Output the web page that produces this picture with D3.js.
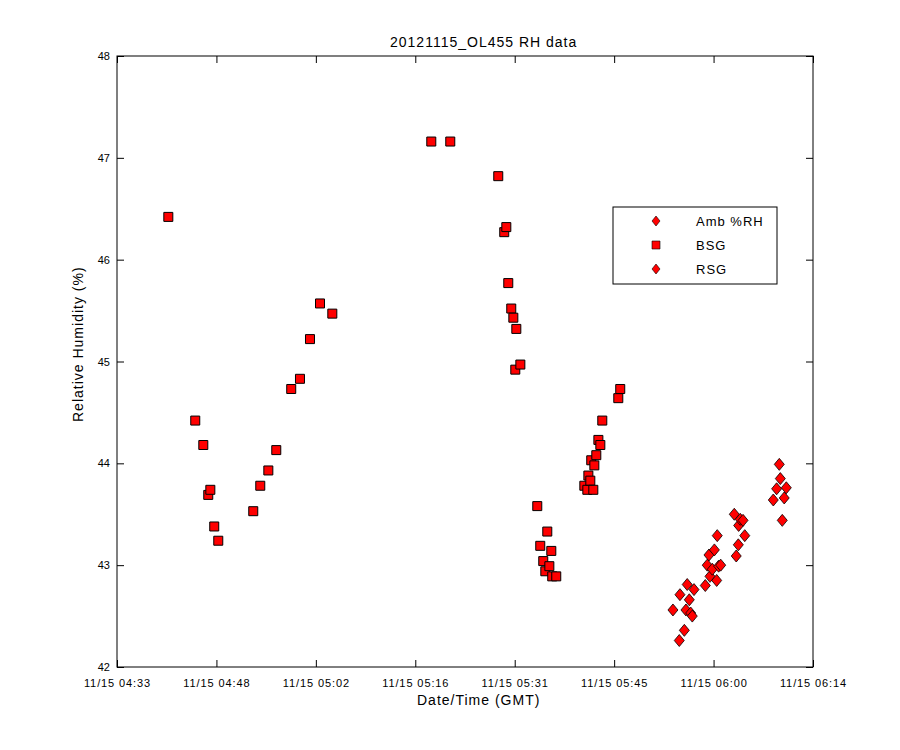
<!DOCTYPE html>
<html>
<head>
<meta charset="utf-8">
<script src="https://cdn.jsdelivr.net/npm/d3@7"></script>
<style>
  body { margin: 0; background: #fff; }
  svg text { font-family: Arial, "Liberation Sans", sans-serif; fill: #000; }
</style>
</head>
<body>
<svg id="chart"></svg>
<script>
// series (time of day on 11/15, %RH)
const bsgTimes = ["04:41:02","04:44:56","04:46:06","04:46:49","04:47:07","04:47:41","04:48:16",
  "04:53:20","04:54:21","04:55:31","04:56:40","04:58:50","05:00:06","05:01:33","05:03:00","05:04:47",
  "05:19:07","05:21:52","05:28:49","05:29:41","05:29:59","05:30:16","05:30:42","05:31:00","05:31:26",
  "05:31:17","05:32:01","05:34:28","05:34:54","05:35:20","05:35:38","05:35:55","05:36:13","05:36:30",
  "05:36:38","05:37:13","05:41:17","05:41:43","05:41:52","05:42:09","05:42:17","05:42:35","05:42:44",
  "05:43:01","05:43:19","05:43:36","05:43:53","05:46:12","05:46:29"]
const bsgValues = [46.42,44.42,44.18,43.69,43.74,43.38,43.24,
  43.53,43.78,43.93,44.13,44.73,44.83,45.22,45.57,45.47,
  47.16,47.16,46.82,46.27,46.32,45.77,45.52,45.43,45.32,
  44.92,44.97,43.58,43.19,43.04,42.94,43.33,42.99,43.14,
  42.89,42.89,43.78,43.74,43.88,43.83,44.03,43.74,43.98,
  44.08,44.23,44.18,44.42,44.64,44.73]

const rsgTimes = ["05:54:07","05:55:02","05:55:08","05:55:46","05:56:00","05:56:11","05:56:29",
  "05:56:41","05:56:55","05:57:10","05:58:48","05:59:05","05:59:20","05:59:29","05:59:49","06:00:07",
  "06:00:27","06:00:32","06:00:44","06:01:02","06:03:00","06:03:17","06:03:35","06:03:38","06:03:52",
  "06:04:16","06:04:31","06:08:39","06:09:08","06:09:31","06:09:40","06:09:57","06:10:14","06:10:32"]
const rsgValues = [42.56,42.26,42.71,42.36,42.56,42.81,42.66,
  42.53,42.50,42.76,42.80,43.00,43.10,42.89,42.96,43.15,
  42.85,43.29,42.99,43.00,43.50,43.09,43.20,43.39,43.45,
  43.44,43.29,43.64,43.75,43.99,43.85,43.44,43.66,43.76]

const legendNames = ["Amb %RH", "BSG", "RSG"]
const legendShapes = ["diamond", "square", "diamond"]

const xStart = "04:33:36", xEnd = "06:14:24"
const xTickCount = 8
const yTicks = [42, 43, 44, 45, 46, 47, 48]

const width = 900, height = 750
const margin = {top: 56, right: 87, bottom: 83, left: 117}

const parseTime = d3.timeParse("%Y-%m-%d %H:%M:%S")
const toDate = t => parseTime("2012-11-15 " + t)

const svg = d3.select("#chart").attr("width", width).attr("height", height)

const x = d3.scaleTime()
  .domain([toDate(xStart), toDate(xEnd)])
  .range([margin.left, width - margin.right])
const y = d3.scaleLinear()
  .domain([42, 48])
  .range([height - margin.bottom, margin.top])

// evenly spaced ticks like the original, labels truncated to minutes
const xd = x.domain()
const xTicks = d3.range(xTickCount).map(i =>
  new Date(+xd[0] + i * (xd[1] - xd[0]) / (xTickCount - 1)))
const fmt = d3.timeFormat("%m/%d %H:%M")

const tickLen = 7

// bottom / top axes
const xAxisG = svg.append("g")
  .attr("transform", `translate(0,${height - margin.bottom})`)
  .call(d3.axisBottom(x).tickValues(xTicks).tickFormat(fmt).tickSizeInner(-tickLen).tickSizeOuter(0).tickPadding(12))
xAxisG.selectAll(".tick text").style("letter-spacing", "0.9px")
svg.append("g")
  .attr("transform", `translate(0,${margin.top})`)
  .call(d3.axisTop(x).tickValues(xTicks).tickFormat("").tickSizeInner(-tickLen).tickSizeOuter(0))
// left / right axes
svg.append("g")
  .attr("transform", `translate(${margin.left},0)`)
  .call(d3.axisLeft(y).tickValues(yTicks).tickFormat(d3.format("d")).tickSizeInner(-tickLen).tickSizeOuter(0).tickPadding(7))
svg.append("g")
  .attr("transform", `translate(${width - margin.right},0)`)
  .call(d3.axisRight(y).tickValues(yTicks).tickFormat("").tickSizeInner(-tickLen).tickSizeOuter(0))

svg.selectAll(".domain").remove()
svg.selectAll(".tick line").attr("stroke", "#000")
svg.selectAll(".tick text").style("font-size", "11px").style("font-family", "Arial, 'Liberation Sans', sans-serif")

// plot box
svg.append("rect")
  .attr("x", margin.left).attr("y", margin.top)
  .attr("width", width - margin.left - margin.right)
  .attr("height", height - margin.top - margin.bottom)
  .attr("fill", "none").attr("stroke", "#000")

const square = d3.symbol().type(d3.symbolSquare).size(81)
const diamondPath = "M0,-6L5,0L0,6L-5,0Z"

// BSG squares
svg.append("g")
  .selectAll("path")
  .data(bsgTimes.map((t, i) => ({t: toDate(t), v: bsgValues[i]})))
  .enter()
  .append("path")
    .attr("d", square)
    .attr("transform", d => `translate(${x(d.t)},${y(d.v)})`)
    .attr("fill", "#ff0000")
    .attr("stroke", "#000")
    .attr("stroke-width", 1)

// RSG diamonds
svg.append("g")
  .selectAll("path")
  .data(rsgTimes.map((t, i) => ({t: toDate(t), v: rsgValues[i]})))
  .enter()
  .append("path")
    .attr("d", diamondPath)
    .attr("transform", d => `translate(${x(d.t)},${y(d.v)})`)
    .attr("fill", "#ff0000")
    .attr("stroke", "#000")
    .attr("stroke-width", 0.8)

// title and labels (positioned by their left edge, as in the original)
svg.append("text")
  .attr("x", 390).attr("y", 47)
  .style("font-size", "14px").style("letter-spacing", "1px")
  .text("20121115_OL455 RH data")
svg.append("text")
  .attr("x", 417).attr("y", 705)
  .style("font-size", "14px").style("letter-spacing", "1px")
  .text("Date/Time (GMT)")
svg.append("text")
  .attr("transform", "translate(83,422) rotate(-90)")
  .style("font-size", "14px").style("letter-spacing", "1px")
  .text("Relative Humidity (%)")

// legend
const legend = svg.append("g").attr("transform", "translate(613,207)")
legend.append("rect")
  .attr("width", 164).attr("height", 77)
  .attr("fill", "#fff").attr("stroke", "#000")
const rows = legend.selectAll("g.row")
  .data(legendNames)
  .enter()
  .append("g")
    .attr("class", "row")
    .attr("transform", (d, i) => `translate(0,${14 + i * 24})`)
rows.append("path")
  .attr("d", (d, i) => legendShapes[i] === "square" ? d3.symbol().type(d3.symbolSquare).size(64)() : "M0,-5L4,0L0,5L-4,0Z")
  .attr("transform", "translate(43,0)")
  .attr("fill", "#ff0000")
  .attr("stroke", "#000")
  .attr("stroke-width", 0.6)
rows.append("text")
  .attr("x", 83).attr("y", 5)
  .style("font-size", "13px").style("letter-spacing", "1px")
  .text(d => d)
</script>
</body>
</html>
